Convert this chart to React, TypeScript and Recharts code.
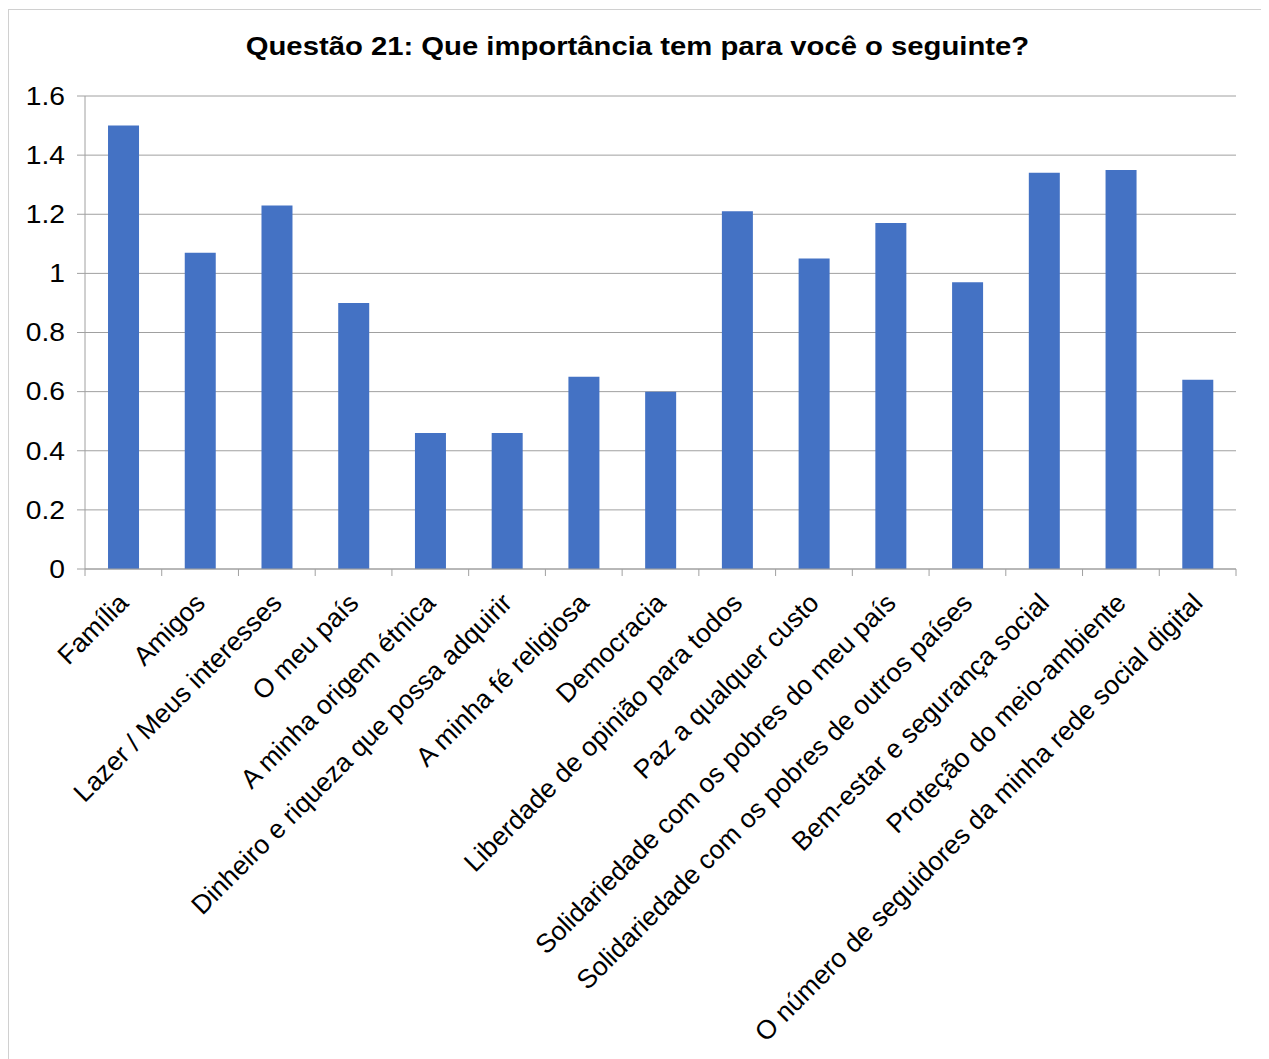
import React from "react";
import { BarChart, Bar, XAxis, YAxis, CartesianGrid } from "recharts";

const categories = [
  "Família",
  "Amigos",
  "Lazer / Meus interesses",
  "O meu país",
  "A minha origem étnica",
  "Dinheiro e riqueza que possa adquirir",
  "A minha fé religiosa",
  "Democracia",
  "Liberdade de opinião para todos",
  "Paz a qualquer custo",
  "Solidariedade com os pobres do meu país",
  "Solidariedade com os pobres de outros países",
  "Bem-estar e segurança social",
  "Proteção do meio-ambiente",
  "O número de seguidores da minha rede social digital",
];
const values = [1.5, 1.07, 1.23, 0.9, 0.46, 0.46, 0.65, 0.6, 1.21, 1.05, 1.17, 0.97, 1.34, 1.35, 0.64];
const yTicks = [0, 0.2, 0.4, 0.6, 0.8, 1, 1.2, 1.4, 1.6];
const title = "Questão 21: Que importância tem para você o seguinte?";

const data = categories.map((name, i) => ({ name, v: values[i] }));

const W = 1257;
const H = 1049;
const M = { top: 86, right: 30, left: 0, bottom: 0 };
const Y_W = 76;
const X_H = H - M.top - 473;
const BAND = (W - M.left - M.right - Y_W) / categories.length;
const GRID = "#a0a0a0";
const FONT = "'Liberation Sans', Arial, sans-serif";

function XTick(props: any) {
  const { x, y, payload, index } = props;
  const half = BAND / 2;
  return (
    <g>
      <line x1={x - half} x2={x - half} y1={y} y2={y + 7} stroke={GRID} />
      {index === categories.length - 1 && <line x1={x + half} x2={x + half} y1={y} y2={y + 7} stroke={GRID} />}
      <g transform={`translate(${x},${y + 29}) rotate(-45)`}>
        <text x={0} y={0} dy="0.35em" textAnchor="end" fontSize={26.5} fill="#000" fontFamily={FONT}>
          {payload.value}
        </text>
      </g>
    </g>
  );
}

function YTick(props: any) {
  const { x, y, payload } = props;
  return (
    <g transform={`translate(${x},${y})`}>
      <text transform="scale(1.13,1)" x={0} y={0} dy="0.35em" textAnchor="end" fontSize={25} fill="#000" fontFamily={FONT}>
        {String(payload.value)}
      </text>
    </g>
  );
}

export default function App() {
  return (
    <div
      style={{
        position: "relative",
        width: 1259,
        height: 1051,
        marginTop: 1,
        border: "1px solid #d0d0d0",
        boxSizing: "border-box",
        background: "#fff",
        fontFamily: FONT,
        overflow: "hidden",
      }}
    >
      <div
        style={{
          position: "absolute",
          top: 24,
          left: 0,
          width: "100%",
          textAlign: "center",
          fontSize: 25,
          lineHeight: "25px",
          fontWeight: "bold",
          color: "#000",
          transform: "scaleX(1.17)",
        }}
      >
        {title}
      </div>
      <BarChart width={W} height={H} data={data} margin={M} barCategoryGap="30%">
        <CartesianGrid vertical={false} stroke={GRID} />
        <XAxis
          dataKey="name"
          interval={0}
          height={X_H}
          tickLine={false}
          tickSize={0}
          tickMargin={0}
          axisLine={{ stroke: GRID }}
          tick={<XTick />}
        />
        <YAxis
          type="number"
          domain={[0, 1.6]}
          ticks={yTicks}
          width={Y_W}
          tickSize={8}
          tickMargin={12}
          axisLine={{ stroke: GRID }}
          tickLine={{ stroke: GRID }}
          tick={<YTick />}
        />
        <Bar dataKey="v" fill="#4472C4" isAnimationActive={false} />
      </BarChart>
    </div>
  );
}
